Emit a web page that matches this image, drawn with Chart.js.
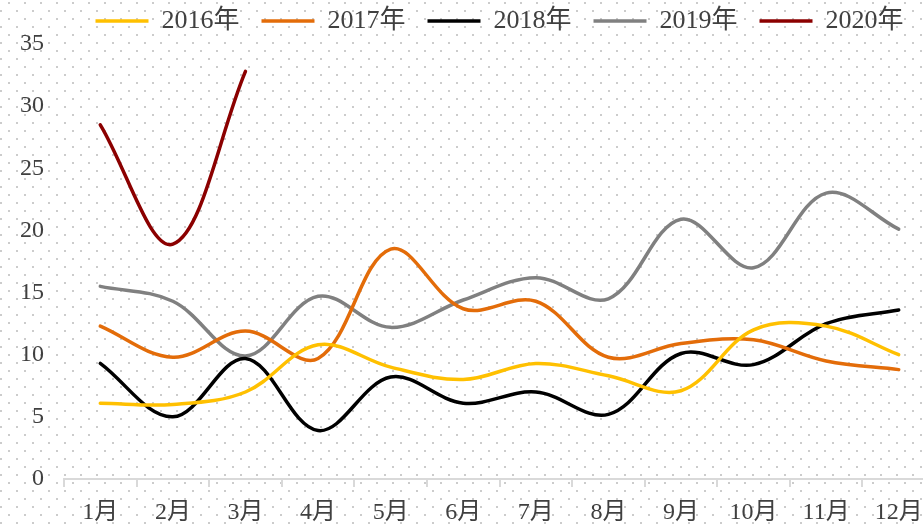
<!DOCTYPE html>
<html>
<head>
<meta charset="utf-8">
<script src="https://cdn.jsdelivr.net/npm/chart.js@4/dist/chart.umd.min.js"></script>
<style>
  html, body { margin: 0; padding: 0; background: #fff; overflow: hidden; }
  #wrap { width: 923px; height: 525px; overflow: hidden; position: relative; }
  #box { width: 940px; height: 525px; position: absolute; left: 0; top: 0; }
</style>
</head>
<body>
<div id="wrap"><div id="box"><canvas id="c"></canvas></div></div>
<script>
const months = ['1月','2月','3月','4月','5月','6月','7月','8月','9月','10月','11月','12月'];
const yTicks = [0, 5, 10, 15, 20, 25, 30, 35];
const s2016 = [6.1, 6.0, 7.0, 10.8, 9.0, 8.0, 9.3, 8.3, 7.1, 12.0, 12.3, 10.0];
const s2017 = [12.3, 9.8, 11.9, 9.7, 18.5, 13.7, 14.3, 9.8, 10.9, 11.2, 9.5, 8.8];
const s2018 = [9.3, 5.0, 9.7, 3.9, 8.2, 6.1, 7.0, 5.2, 10.1, 9.2, 12.5, 13.6];
const s2019 = [15.5, 14.3, 9.9, 14.7, 12.2, 14.4, 16.2, 14.5, 20.9, 17.0, 23.0, 20.1];
const s2020 = [28.5, 18.9, 32.8];
const seriesNames = ['2016年','2017年','2018年','2019年','2020年'];

const FONT = "'Liberation Serif', 'Noto Sans CJK SC', serif";
const TXT = '#404040';

const bgPlugin = {
  id: 'dotbg',
  beforeDraw(chart) {
    const ctx = chart.ctx;
    const w = chart.width, h = chart.height;
    ctx.save();
    ctx.fillStyle = '#ffffff';
    ctx.fillRect(0, 0, w, h);
    ctx.fillStyle = '#cccccc';
    let row = 0;
    for (let y = 2; y < h; y += 8, row++) {
      const off = (row % 2 === 0) ? 8 : 0;
      for (let x = off; x < w; x += 16) {
        ctx.fillRect(x, y, 2, 2);
      }
    }
    ctx.restore();
  }
};

function ds(label, data, color) {
  return {
    label, data,
    borderColor: color, backgroundColor: color,
    borderWidth: 3.5, pointRadius: 0, pointHoverRadius: 0,
    tension: 0.36, fill: false, borderCapStyle: 'round'
  };
}

new Chart(document.getElementById('c'), {
  type: 'line',
  data: {
    labels: months,
    datasets: [
      ds(seriesNames[0], s2016, '#FFC000'),
      ds(seriesNames[1], s2017, '#E36C09'),
      ds(seriesNames[2], s2018, '#000000'),
      ds(seriesNames[3], s2019, '#808080'),
      ds(seriesNames[4], s2020, '#8B0000')
    ]
  },
  options: {
    responsive: true,
    maintainAspectRatio: false,
    animation: false,
    layout: { padding: { left: 0, right: 5, top: -14, bottom: -14 } },
    plugins: {
      tooltip: { enabled: false },
      legend: {
        position: 'top',
        fullSize: false,
        align: 'center',
        labels: {
          usePointStyle: true,
          pointStyle: 'line',
          pointStyleWidth: 53,
          boxHeight: 20,
          padding: 22,
          color: TXT,
          font: { family: FONT, size: 26 }
        }
      }
    },
    scales: {
      x: {
        offset: true,
        grid: {
          display: true, drawOnChartArea: false, drawTicks: true,
          tickLength: 8, color: '#d9d9d9', lineWidth: 2, offset: true
        },
        border: { display: true, color: '#d9d9d9', width: 2 },
        ticks: {
          color: TXT, padding: 14, maxRotation: 0, autoSkip: false,
          font: { family: FONT, size: 24, lineHeight: 1 }
        }
      },
      y: {
        min: 0, max: 35,
        afterBuildTicks(axis) { axis.ticks = yTicks.map(v => ({ value: v })); },
        grid: { display: false, drawTicks: false },
        border: { display: false },
        ticks: {
          color: TXT, padding: 20,
          font: { family: FONT, size: 24 }
        }
      }
    }
  },
  plugins: [bgPlugin]
});
</script>
</body>
</html>
